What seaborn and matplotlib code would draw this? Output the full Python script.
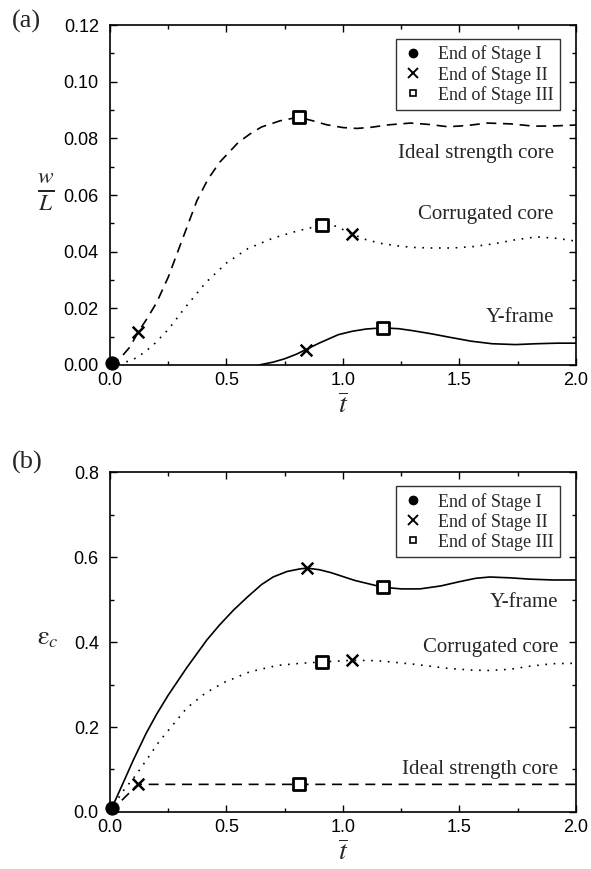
import numpy as np
import pandas as pd
import matplotlib
matplotlib.use("Agg")
import matplotlib.pyplot as plt
from matplotlib.lines import Line2D
from matplotlib.ticker import MultipleLocator
import seaborn as sns

# ---- (a) dimensionless mid-span deflection w/L versus normalised time ----
t_ideal_a = [0, 0.04, 0.086, 0.12, 0.16, 0.2, 0.25, 0.3, 0.373, 0.42, 0.47, 0.55, 0.6, 0.65, 0.73, 0.81,
             0.87, 0.93, 1.0, 1.06, 1.12, 1.2, 1.29, 1.37, 1.45, 1.53, 1.62, 1.72, 1.82, 1.91, 2.0]
w_ideal_a = [0, 0.002, 0.0064, 0.0115, 0.0165, 0.022, 0.031, 0.042, 0.058, 0.0655, 0.0715, 0.0785, 0.0815, 0.084, 0.0862, 0.0875,
             0.0862, 0.0848, 0.0838, 0.0835, 0.0839, 0.0848, 0.0854, 0.0849, 0.0841, 0.0845, 0.0854, 0.0851, 0.0843, 0.0844, 0.0847]

t_corr_a = [0, 0.056, 0.094, 0.12, 0.155, 0.185, 0.25, 0.32, 0.41, 0.5, 0.59, 0.7, 0.8, 0.91, 0.97, 1.04,
            1.1, 1.17, 1.24, 1.3, 1.38, 1.47, 1.56, 1.65, 1.74, 1.83, 1.92, 2.0]
w_corr_a = [0, 0.0007, 0.0018, 0.0028, 0.005, 0.007, 0.0125, 0.020, 0.029, 0.036, 0.041, 0.0448, 0.0472, 0.0494, 0.049, 0.0462,
            0.0442, 0.0428, 0.042, 0.0415, 0.0413, 0.0413, 0.0418, 0.0428, 0.0442, 0.0452, 0.0447, 0.0437]

t_yf_a = [0.64, 0.7, 0.75, 0.8, 0.84, 0.9, 0.98, 1.04, 1.1, 1.17, 1.24, 1.3, 1.38, 1.45, 1.55, 1.64, 1.74, 1.83, 1.92, 2.0]
w_yf_a = [0, 0.001, 0.0022, 0.0038, 0.0054, 0.0078, 0.0107, 0.0119, 0.0127, 0.0131, 0.0128, 0.0121, 0.011, 0.0099, 0.0084, 0.0075, 0.0072, 0.0075, 0.0077, 0.0077]

# ---- (b) core compressive strain versus normalised time ----
t_ideal_b = [0, 0.12, 0.81, 2.0]
e_ideal_b = [0, 0.065, 0.065, 0.065]

t_corr_b = [0, 0.05, 0.11, 0.16, 0.21, 0.27, 0.33, 0.41, 0.49, 0.6, 0.72, 0.82, 0.91, 0.97, 1.04,
            1.15, 1.3, 1.45, 1.55, 1.63, 1.72, 1.8, 1.9, 2.0]
e_corr_b = [0, 0.045, 0.086, 0.125, 0.165, 0.205, 0.245, 0.28, 0.305, 0.33, 0.345, 0.35, 0.353, 0.355, 0.357,
            0.356, 0.348, 0.338, 0.334, 0.333, 0.336, 0.343, 0.349, 0.35]

t_yf_b = [0, 0.043, 0.1, 0.155, 0.2, 0.25, 0.33, 0.416, 0.47, 0.53, 0.588, 0.65, 0.7, 0.76, 0.815, 0.845,
          0.9, 0.95, 1.05, 1.17, 1.25, 1.33, 1.42, 1.5, 1.57, 1.63, 1.72, 1.8, 1.9, 2.0]
e_yf_b = [0, 0.052, 0.122, 0.185, 0.23, 0.275, 0.34, 0.405, 0.44, 0.475, 0.505, 0.535, 0.553, 0.566, 0.572, 0.574,
          0.57, 0.563, 0.545, 0.529, 0.525, 0.525, 0.532, 0.542, 0.55, 0.553, 0.551, 0.548, 0.546, 0.546]

# ---- stage-end markers: (t, value) ----
stage1_a = [(0.01, 0.0006)]
stage2_a = [(0.12, 0.0115), (1.04, 0.0462), (0.84, 0.0054)]
stage3_a = [(0.81, 0.0875), (0.91, 0.0494), (1.17, 0.0131)]

stage1_b = [(0.01, 0.01)]
stage2_b = [(0.12, 0.065), (1.04, 0.357), (0.845, 0.574)]
stage3_b = [(0.81, 0.065), (0.91, 0.353), (1.17, 0.529)]

legend_labels = ["End of Stage I", "End of Stage II", "End of Stage III"]

sns.set_theme(style="ticks")
plt.rcParams["font.family"] = ["Liberation Sans", "DejaVu Sans"]
plt.rcParams["mathtext.fontset"] = "stix"

SERIF = ["Liberation Serif", "DejaVu Serif"]

fig = plt.figure(figsize=(5.91, 8.69), dpi=100)
fig.patch.set_facecolor("white")
ax1 = fig.add_axes([0.1861, 0.5800, 0.7885, 0.3912])
ax2 = fig.add_axes([0.1861, 0.0656, 0.7885, 0.3912])

dash_style = (0, (6, 4))
dot_style = (0, (1, 4))


def curve(ax, t, v, style):
    df = pd.DataFrame({"t": t, "v": v})
    sns.lineplot(data=df, x="t", y="v", ax=ax, color="black", lw=1.2,
                 linestyle=style, sort=False, estimator=None)


def markers(ax, s1, s2, s3):
    d1 = pd.DataFrame(s1, columns=["t", "v"])
    d2 = pd.DataFrame(s2, columns=["t", "v"])
    d3 = pd.DataFrame(s3, columns=["t", "v"])
    sns.scatterplot(data=d3, x="t", y="v", ax=ax, marker="s", s=70,
                    facecolor="white", edgecolor="black", linewidth=2.0, zorder=5)
    sns.scatterplot(data=d2, x="t", y="v", ax=ax, marker="x", s=70,
                    color="black", linewidth=1.8, zorder=5)
    sns.scatterplot(data=d1, x="t", y="v", ax=ax, marker="o", s=90,
                    color="black", edgecolor="black", zorder=6, clip_on=False)


def style_axes(ax, ymax, ymajor, yminor, yfmt):
    ax.set_xlim(0, 2.0)
    ax.set_ylim(0, ymax)
    ax.xaxis.set_major_locator(MultipleLocator(0.5))
    ax.xaxis.set_minor_locator(MultipleLocator(0.25))
    ax.yaxis.set_major_locator(MultipleLocator(ymajor))
    ax.yaxis.set_minor_locator(MultipleLocator(yminor))
    ax.yaxis.set_major_formatter(plt.FormatStrFormatter(yfmt))
    ax.xaxis.set_major_formatter(plt.FormatStrFormatter("%.1f"))
    ax.tick_params(which="both", direction="in", top=True, right=True,
                   colors="black", width=1.0)
    ax.tick_params(which="major", length=5, labelsize=13)
    ax.tick_params(axis="x", which="major", pad=5)
    ax.tick_params(axis="y", which="major", pad=8)
    ax.tick_params(which="minor", length=3)
    for sp in ax.spines.values():
        sp.set_visible(True)
        sp.set_linewidth(1.2)
        sp.set_color("black")
    ax.set_xlabel("")
    ax.set_ylabel("")
    ax.grid(False)
    handles = [
        Line2D([], [], ls="none", marker="o", ms=6, color="black"),
        Line2D([], [], ls="none", marker="x", ms=7, mew=1.4, color="black"),
        Line2D([], [], ls="none", marker="s", ms=5, mfc="white", mec="black", mew=1.2),
    ]
    leg = ax.legend(handles, legend_labels, loc="upper right",
                    bbox_to_anchor=(0.966, 0.958), frameon=True, fancybox=False,
                    prop={"family": SERIF, "size": 13}, handlelength=1.2,
                    handletextpad=0.8, borderpad=0.35, labelspacing=0.12,
                    borderaxespad=0.0)
    leg.get_frame().set_edgecolor("black")
    leg.get_frame().set_linewidth(1.0)


# panel (a)
curve(ax1, t_ideal_a, w_ideal_a, dash_style)
curve(ax1, t_corr_a, w_corr_a, dot_style)
curve(ax1, t_yf_a, w_yf_a, "-")
markers(ax1, stage1_a, stage2_a, stage3_a)
style_axes(ax1, 0.12, 0.02, 0.01, "%.2f")
ax1.text(1.905, 0.0748, "Ideal strength core", ha="right", va="center",
         family=SERIF, fontsize=15)
ax1.text(1.905, 0.0530, "Corrugated core", ha="right", va="center",
         family=SERIF, fontsize=15)
ax1.text(1.905, 0.0166, "Y-frame", ha="right", va="center",
         family=SERIF, fontsize=15)

# panel (b)
curve(ax2, t_ideal_b, e_ideal_b, dash_style)
curve(ax2, t_corr_b, e_corr_b, dot_style)
curve(ax2, t_yf_b, e_yf_b, "-")
markers(ax2, stage1_b, stage2_b, stage3_b)
style_axes(ax2, 0.8, 0.2, 0.1, "%.1f")
ax2.text(1.925, 0.492, "Y-frame", ha="right", va="center",
         family=SERIF, fontsize=15)
ax2.text(1.925, 0.386, "Corrugated core", ha="right", va="center",
         family=SERIF, fontsize=15)
ax2.text(1.925, 0.100, "Ideal strength core", ha="right", va="center",
         family=SERIF, fontsize=15)

# axis titles and panel letters
fig.text(46 / 591, 1 - 192 / 869, r"$\frac{w}{L}$", ha="center", va="center", fontsize=24)
fig.text(48 / 591, 1 - 638 / 869, r"$\mathrm{\varepsilon}_c$", ha="center", va="center", fontsize=19)
fig.text(343 / 591, 1 - 406 / 869, r"$\overline{t}$", ha="center", va="center", fontsize=20)
fig.text(343 / 591, 1 - 853 / 869, r"$\overline{t}$", ha="center", va="center", fontsize=20)
fig.text(12 / 591, 1 - 21 / 869, "(a)", ha="left", va="center", family=SERIF, fontsize=19)
fig.text(12 / 591, 1 - 462 / 869, "(b)", ha="left", va="center", family=SERIF, fontsize=19)

fig.savefig("out.png", dpi=100, facecolor="white")
